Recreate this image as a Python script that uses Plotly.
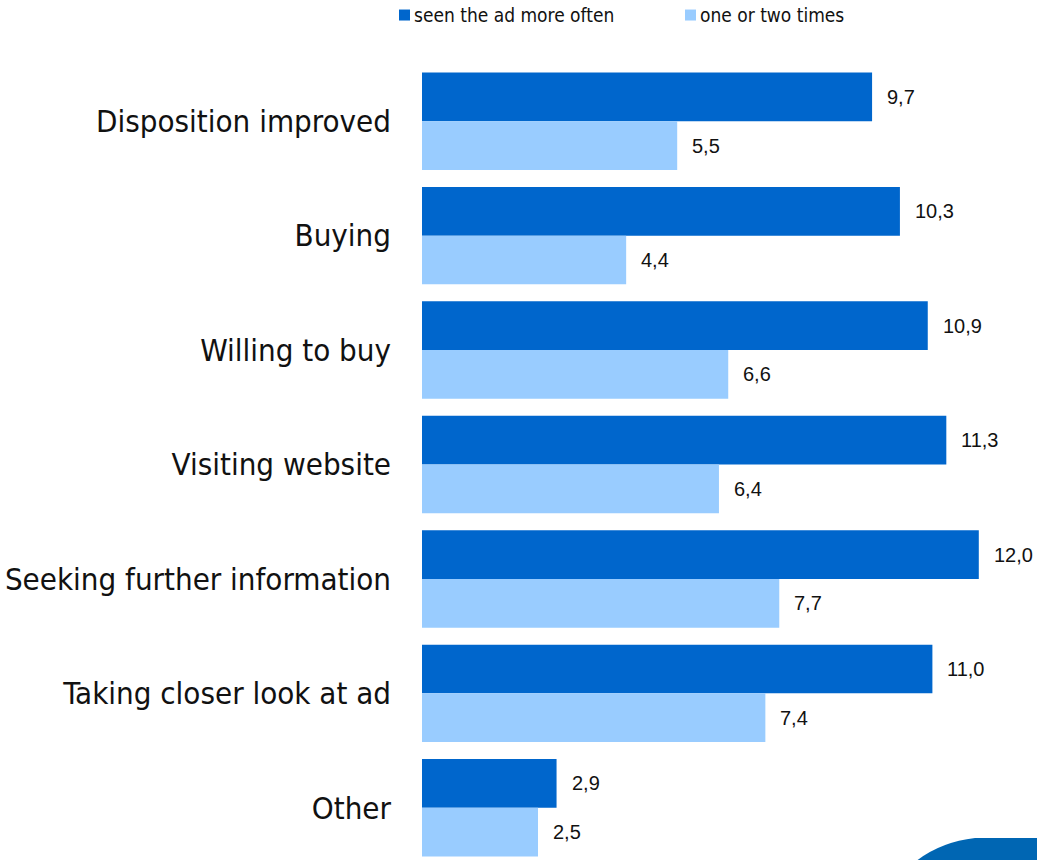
import plotly.graph_objects as go

categories = ["Disposition improved", "Buying", "Willing to buy", "Visiting website",
              "Seeking further information", "Taking closer look at ad", "Other"]
seen_often = [9.7, 10.3, 10.9, 11.3, 12.0, 11.0, 2.9]
once_twice = [5.5, 4.4, 6.6, 6.4, 7.7, 7.4, 2.5]
series_names = ["seen the ad more often", "one or two times"]
colors = ["#0066CC", "#99CCFF"]

W, H = 1037, 860
plot_left, plot_top = 422, 63.5
px_per_unit = 46.4
group_pitch = 114.5

x_max = (W - plot_left) / px_per_unit
y_bottom = -0.5 + (H - plot_top) / group_pitch

LABEL_FONT = "DejaVu Sans Condensed, DejaVu Sans"


def px_to_paper(px, py):
    return (px - plot_left) / (W - plot_left), 1 - (py - plot_top) / (H - plot_top)


fig = go.Figure()
for name, vals, col in zip(series_names, [seen_often, once_twice], colors):
    fig.add_trace(go.Bar(
        y=categories, x=vals, name=name, orientation="h",
        marker=dict(color=col, line=dict(width=0)),
        hoverinfo="x+y", showlegend=False,
    ))

# value labels placed just past the end of each bar
annotations = []
for k, vals in enumerate([seen_often, once_twice]):
    for i, v in enumerate(vals):
        annotations.append(dict(
            x=v, y=i + (-0.2125 if k == 0 else 0.2125), xref="x", yref="y",
            text=f"{v:.1f}".replace(".", ","), showarrow=False,
            xanchor="left", yanchor="middle", xshift=13,
            font=dict(family="Liberation Sans, Arial", size=20, color="#111111"),
        ))

# legend row across the top
shapes = []
legend_pos = [399, 685]
for name, col, lx in zip(series_names, colors, legend_pos):
    a = px_to_paper(lx, 9)
    b = px_to_paper(lx + 11, 20)
    shapes.append(dict(type="rect", xref="paper", yref="paper",
                       x0=a[0], y0=b[1], x1=b[0], y1=a[1],
                       fillcolor=col, line=dict(width=0)))
    t = px_to_paper(lx + 13, 14.5)
    annotations.append(dict(
        x=t[0], y=t[1], xref="paper", yref="paper", text=name, showarrow=False,
        xanchor="left", yanchor="middle",
        font=dict(family=LABEL_FONT, size=19, color="#111111"),
    ))

# decorative blue corner shape
p0 = px_to_paper(915, 862)
p1 = px_to_paper(940, 842)
p2 = px_to_paper(975, 838)
p3 = px_to_paper(1040, 838)
p4 = px_to_paper(1040, 862)
path = (f"M {p0[0]},{p0[1]} Q {p1[0]},{p1[1]} {p2[0]},{p2[1]} "
        f"L {p3[0]},{p3[1]} L {p4[0]},{p4[1]} Z")
shapes.append(dict(type="path", path=path, xref="paper", yref="paper",
                   fillcolor="#0066B3", line=dict(width=0), layer="above"))

fig.update_layout(
    width=W, height=H,
    margin=dict(l=plot_left, r=0, t=plot_top, b=0, pad=0),
    paper_bgcolor="white", plot_bgcolor="white",
    barmode="group", bargap=17 / group_pitch, bargroupgap=0,
    showlegend=False,
    xaxis=dict(range=[0, x_max], visible=False),
    yaxis=dict(autorange=False, range=[y_bottom, -0.5], type="category",
               showline=False, showgrid=False, zeroline=False, ticks="",
               ticklabelstandoff=30,
               tickfont=dict(family=LABEL_FONT, size=31, color="#111111")),
    annotations=annotations,
    shapes=shapes,
)

fig.write_html("out.html")
